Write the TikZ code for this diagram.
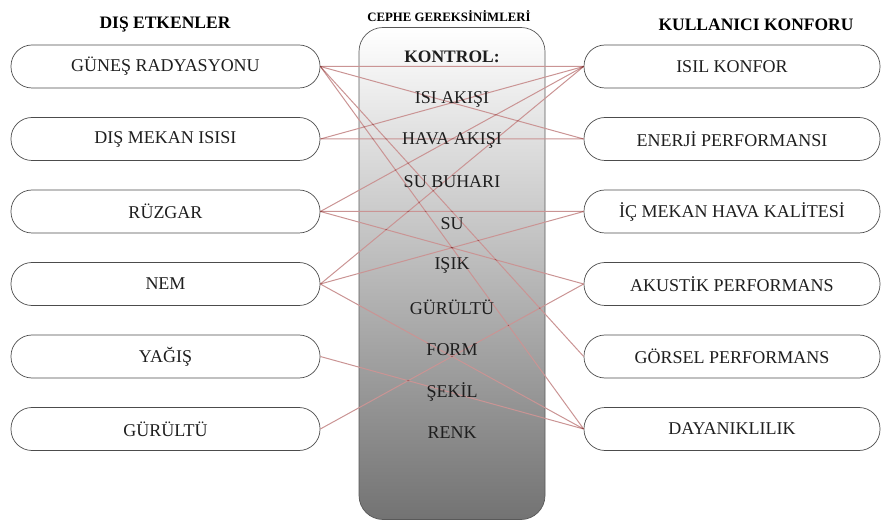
\documentclass[tikz,border=0pt]{standalone}
\usepackage{fontspec}
\setmainfont{Liberation Serif}
\definecolor{linkred}{RGB}{202,148,148}
\definecolor{inktext}{RGB}{30,30,30}
\begin{document}
\begin{tikzpicture}[x=1pt,y=-1pt,
  factor/.style={draw=black!70, line width=0.7pt, rounded corners=21pt,
    minimum width=309pt, minimum height=43pt, inner sep=0pt,
    font=\fontsize{18}{21}\selectfont, text=inktext},
  header/.style={font=\bfseries\fontsize{17.5}{20}\selectfont, text=black},
  item/.style={font=\fontsize{18}{21}\selectfont, text=inktext, inner sep=0pt},
  link/.style={draw=linkred, line width=1pt}]
\useasboundingbox (0,0) rectangle (881,521);

% central panel with vertical shading
\node (panel) [draw=black!65, line width=0.7pt, rounded corners=24pt,
  top color=white, bottom color=black!55,
  minimum width=186pt, minimum height=492pt, inner sep=0pt] at (452,273.5) {};

% column headings
\node (hl) [header] at (165,25) {DIŞ ETKENLER};
\node (hc) [header, font=\bfseries\fontsize{12.8}{15}\selectfont] at (449,16) {CEPHE GEREKSİNİMLERİ};
\node (hr) [header] at (756,25) {KULLANICI KONFORU};

% external factors
\node (L1) [factor] at (165.5,66.5)  {GÜNEŞ RADYASYONU};
\node (L2) [factor] at (165.5,139)   {DIŞ MEKAN ISISI};
\node (L3) [factor] at (165.5,211.5) {RÜZGAR};
\node (L4) [factor] at (165.5,284)   {NEM};
\node (L5) [factor] at (165.5,356.5) {YAĞIŞ};
\node (L6) [factor] at (165.5,429)   {GÜRÜLTÜ};

% user comfort
\node (R1) [factor, minimum width=296pt] at (732,66.5)  {ISIL KONFOR};
\node (R2) [factor, minimum width=296pt] at (732,139)   {ENERJİ PERFORMANSI};
\node (R3) [factor, minimum width=296pt] at (732,211.5) {İÇ MEKAN HAVA KALİTESİ};
\node (R4) [factor, minimum width=296pt] at (732,284)   {AKUSTİK PERFORMANS};
\node (R5) [factor, minimum width=296pt] at (732,356.5) {GÖRSEL PERFORMANS};
\node (R6) [factor, minimum width=296pt] at (732,429)   {DAYANIKLILIK};

% relations between factors and comfort criteria
\begin{scope}[blend group=multiply]
\foreach \a/\b in {L1/R1,L1/R2,L1/R5,L1/R6,
                   L2/R1,L2/R2,
                   L3/R1,L3/R3,L3/R4,
                   L4/R1,L4/R3,L4/R6,
                   L5/R6,
                   L6/R4}
  \draw[link] (\a.east) -- (\b.west);
\end{scope}

% control items inside the panel
\node (c0) [item, font=\bfseries\fontsize{17.5}{20}\selectfont] at (452,57) {KONTROL:};
\node (c1) [item] at (452,99)    {ISI AKIŞI};
\node (c2) [item] at (452,140.5) {HAVA AKIŞI};
\node (c3) [item] at (452,182)   {SU BUHARI};
\node (c4) [item] at (452,223.5) {SU};
\node (c5) [item] at (452,265.5) {IŞIK};
\node (c6) [item] at (452,307.5) {GÜRÜLTÜ};
\node (c7) [item] at (452,349.5) {FORM};
\node (c8) [item] at (452,391.5) {ŞEKİL};
\node (c9) [item] at (452,433)   {RENK};
\end{tikzpicture}
\end{document}
